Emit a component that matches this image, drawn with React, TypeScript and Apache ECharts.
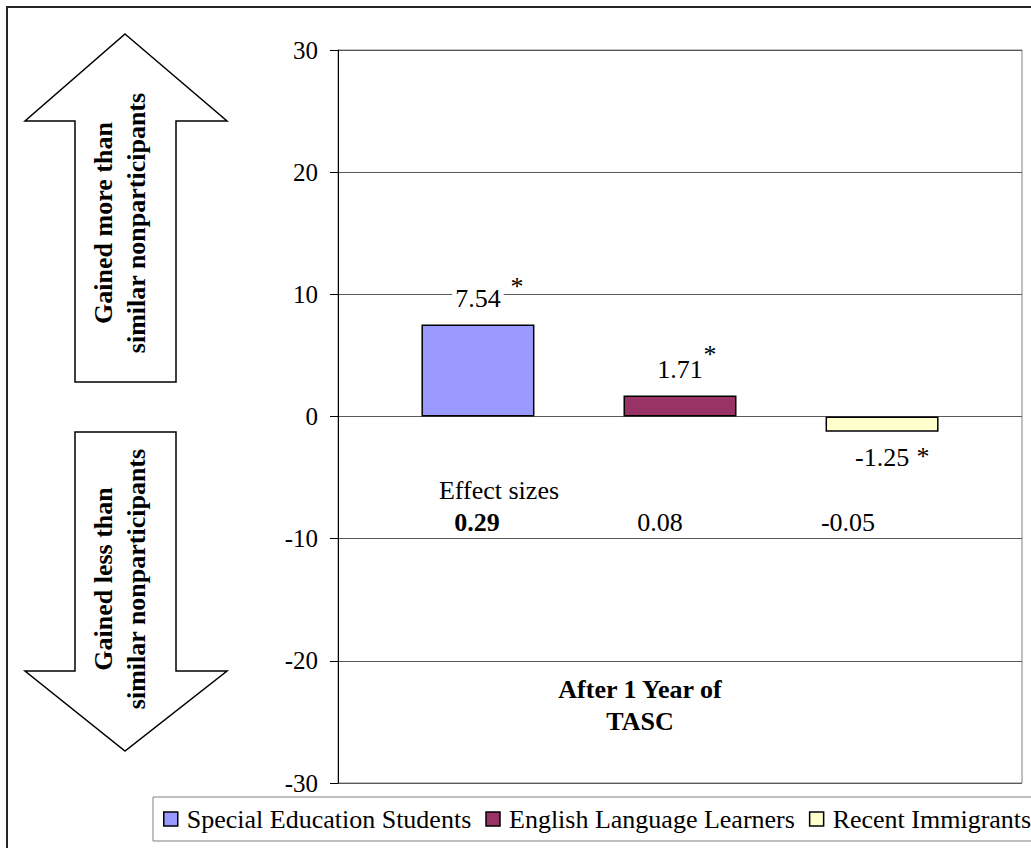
import React, { useEffect, useRef } from 'react';
import * as echarts from 'echarts';

// Gain over similar nonparticipants, after one year of TASC
const categories = ['After 1 Year of TASC'];
const groupNames = ['Special Education Students', 'English Language Learners', 'Recent Immigrants'];
const scoreDifferences = [7.54, 1.71, -1.25];
const significant = [true, true, true];
const effectSizes = ['0.29', '0.08', '-0.05'];
const effectSizeBold = [true, false, false];
const barColors = ['#9999FF', '#993366', '#FFFFCC'];
const yMin = -30;
const yMax = 30;
const yStep = 10;

const FONT = "'Liberation Serif', 'Times New Roman', Times, serif";
const GRID_COLOR = '#5a5a5a';

// star marker offsets relative to each bar's outer end (top for gains, bottom for losses)
const STAR_SHIFT: Array<[number, number]> = [
  [39, -38],
  [30, -41],
  [41, 25],
];

// effect-size row and caption placement
const EFFECT_X = [477, 660, 848];
const EFFECT_Y = 522;

function staticGraphics() {
  const arrowStyle = { fill: '#fff', stroke: '#000', lineWidth: 1.5 };
  const textStyle = {
    align: 'center',
    verticalAlign: 'middle',
    font: `bold 26px ${FONT}`,
    lineHeight: 33,
    fill: '#000',
  };
  return [
    {
      id: 'frame',
      type: 'rect',
      z: -10,
      shape: { x: 7, y: 7, width: 1100, height: 1000 },
      style: { fill: 'none', stroke: '#262626', lineWidth: 2 },
    },
    {
      id: 'arrowUp',
      type: 'polygon',
      shape: {
        points: [
          [125, 34], [227, 121], [176, 121], [176, 382], [75, 382], [75, 121], [25, 121],
        ],
      },
      style: arrowStyle,
    },
    {
      id: 'arrowUpText',
      type: 'text',
      x: 120,
      y: 223,
      rotation: Math.PI / 2,
      style: { ...textStyle, text: 'Gained more than\nsimilar nonparticipants' },
    },
    {
      id: 'arrowDown',
      type: 'polygon',
      shape: {
        points: [
          [75, 432], [176, 432], [176, 671], [227, 671], [125, 751], [25, 671], [75, 671],
        ],
      },
      style: arrowStyle,
    },
    {
      id: 'arrowDownText',
      type: 'text',
      x: 120,
      y: 579,
      rotation: Math.PI / 2,
      style: { ...textStyle, text: 'Gained less than\nsimilar nonparticipants' },
    },
    {
      id: 'effectCaption',
      type: 'text',
      x: 499,
      y: 490,
      style: {
        text: 'Effect sizes',
        align: 'center',
        verticalAlign: 'middle',
        font: `26px ${FONT}`,
        fill: '#000',
      },
    },
    ...effectSizes.map((v, i) => ({
      id: `effect${i}`,
      type: 'text',
      x: EFFECT_X[i],
      y: EFFECT_Y,
      style: {
        text: v,
        align: 'center',
        verticalAlign: 'middle',
        font: `${effectSizeBold[i] ? 'bold ' : ''}26px ${FONT}`,
        fill: '#000',
      },
    })),
  ];
}

export default function App() {
  const ref = useRef<HTMLDivElement>(null);

  useEffect(() => {
    if (!ref.current) return;
    const chart = echarts.init(ref.current, null, { renderer: 'svg' });

    const series = groupNames.map((name, i) => ({
      name,
      type: 'bar',
      barGap: '78.8%',
      barCategoryGap: '24.4%',
      data: [
        {
          value: scoreDifferences[i],
          label: { position: scoreDifferences[i] < 0 ? 'bottom' : 'top' },
        },
      ],
      itemStyle: { color: barColors[i], borderColor: '#000', borderWidth: 1.5 },
      label: {
        show: true,
        distance: 13,
        fontFamily: FONT,
        fontSize: 26,
        color: '#000',
        backgroundColor: '#fff',
        padding: [0, 3],
        formatter: (p: any) => p.value.toFixed(2),
      },
    }));

    chart.setOption({
      animation: false,
      backgroundColor: '#fff',
      textStyle: { fontFamily: FONT },
      grid: {
        left: 338,
        right: 9,
        top: 50,
        bottom: 65,
        show: true,
        borderColor: '#808080',
        borderWidth: 1,
        outerBoundsMode: 'none',
      },
      legend: {
        left: 153,
        top: 797,
        width: 900,
        orient: 'horizontal',
        itemWidth: 14,
        itemHeight: 14,
        itemGap: 14,
        padding: [9, 10, 9, 10],
        borderColor: '#808080',
        borderWidth: 1,
        backgroundColor: '#fff',
        icon: 'rect',
        itemStyle: { borderColor: '#000', borderWidth: 1.5 },
        textStyle: {
          fontFamily: FONT,
          fontSize: 26,
          color: '#000',
          padding: [0, 0, 0, 4],
        },
        data: groupNames,
      },
      xAxis: {
        type: 'category',
        data: categories,
        axisLine: { show: false, onZero: false },
        axisTick: { show: false },
        splitLine: { show: false },
        axisLabel: {
          inside: true,
          margin: 46,
          fontFamily: FONT,
          fontSize: 26,
          fontWeight: 'bold',
          lineHeight: 32,
          color: '#000',
          padding: [0, 80, 0, 0],
          formatter: (v: string) => v.replace(' of ', ' of\n'),
        },
      },
      yAxis: {
        type: 'value',
        min: yMin,
        max: yMax,
        interval: yStep,
        axisLine: { show: true, lineStyle: { color: '#000', width: 1 } },
        axisTick: { show: true, length: 8, inside: false, lineStyle: { color: '#000', width: 1 } },
        splitLine: { show: true, lineStyle: { color: GRID_COLOR, width: 1 } },
        axisLabel: {
          margin: 20,
          fontFamily: FONT,
          fontSize: 25,
          color: '#000',
        },
      },
      series,
      graphic: staticGraphics(),
    });

    // significance stars sit beside each bar's value label
    const stars: any[] = [];
    const model = (chart as any).getModel ? (chart as any).getModel() : null;
    groupNames.forEach((_, i) => {
      if (!significant[i]) return;
      let cx: number;
      let top: number;
      let bottom: number;
      const layout = model?.getSeriesByIndex(i)?.getData()?.getItemLayout(0);
      if (layout) {
        cx = layout.x + layout.width / 2;
        top = Math.min(layout.y, layout.y + layout.height);
        bottom = Math.max(layout.y, layout.y + layout.height);
      } else {
        const base = chart.convertToPixel({ gridIndex: 0 }, [0, 0]) as number[];
        const end = chart.convertToPixel({ gridIndex: 0 }, [0, scoreDifferences[i]]) as number[];
        cx = base[0] + (i - 1) * 202;
        top = Math.min(base[1], end[1]);
        bottom = Math.max(base[1], end[1]);
      }
      const anchorY = scoreDifferences[i] < 0 ? bottom : top;
      stars.push({
        id: `star${i}`,
        type: 'text',
        x: cx + STAR_SHIFT[i][0],
        y: anchorY + STAR_SHIFT[i][1],
        style: {
          text: '*',
          align: 'center',
          verticalAlign: 'middle',
          font: `26px ${FONT}`,
          fill: '#000',
        },
      });
    });
    chart.setOption({ graphic: [...staticGraphics(), ...stars] });

    return () => chart.dispose();
  }, []);

  return (
    <div
      ref={ref}
      style={{ position: 'fixed', left: 0, top: 0, width: 1031, height: 848 }}
    />
  );
}
